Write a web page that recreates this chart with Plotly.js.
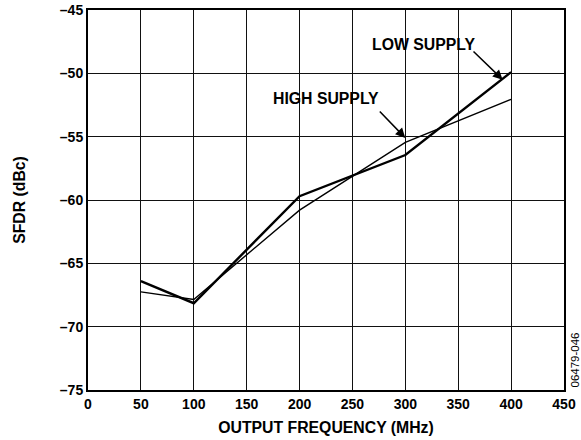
<!DOCTYPE html>
<html><head><meta charset="utf-8">
<script src="https://cdn.plot.ly/plotly-3.0.1.min.js"></script>
<style>body{margin:0;background:#fff}#c{width:581px;height:440px}</style>
</head><body><div id="c"></div>
<script>
const freq = [50, 100, 200, 300, 400];
const lowSupply = [-66.4, -68.15, -59.7, -56.45, -49.9];
const highSupply = [-67.25, -67.85, -60.8, -55.45, -52.05];
const xTicks = [0, 50, 100, 150, 200, 250, 300, 350, 400, 450];
const yTicks = [-75, -70, -65, -60, -55, -50, -45];
const yTickText = ['–75', '–70', '–65', '–60', '–55', '–50', '–45'];

const font = {family: 'Liberation Sans, Arial, sans-serif', color: '#000'};
const data = [
  {x: freq, y: highSupply, mode: 'lines', line: {color: '#000', width: 1.4}, name: 'HIGH SUPPLY'},
  {x: freq, y: lowSupply, mode: 'lines', line: {color: '#000', width: 2.4}, name: 'LOW SUPPLY'}
];
const layout = {
  width: 581, height: 440,
  margin: {l: 88, r: 17, t: 10, b: 50},
  showlegend: false,
  paper_bgcolor: '#fff', plot_bgcolor: '#fff',
  font: Object.assign({size: 12}, font),
  xaxis: {
    range: [0, 450], tickvals: xTicks, ticks: '', showgrid: true, gridcolor: '#111', gridwidth: 1,
    showline: true, linecolor: '#000', linewidth: 2, mirror: true, zeroline: false,
    tickfont: Object.assign({size: 14, weight: 'bold'}, font),
    title: {text: '<b>OUTPUT FREQUENCY (MHz)</b>', font: Object.assign({size: 15.8}, font), standoff: 11}
  },
  yaxis: {
    range: [-75, -45], tickvals: yTicks, ticktext: yTickText, ticks: '', showgrid: true, gridcolor: '#111', gridwidth: 1,
    showline: true, linecolor: '#000', linewidth: 2, mirror: true, zeroline: false,
    tickfont: Object.assign({size: 14, weight: 'bold'}, font),
    title: {text: '<b>SFDR (dBc)</b>', font: Object.assign({size: 15.8}, font), standoff: 30}
  },
  annotations: [
    {x: 392, y: -50.5, xref: 'x', yref: 'y', ax: 472, ay: 50,
     text: '', showarrow: true, arrowhead: 2, arrowsize: 1.3, arrowwidth: 1.5, arrowcolor: '#000'},
    {x: 423, y: 44, text: '<b>LOW SUPPLY</b>', showarrow: false, font: Object.assign({size: 15.8}, font)},
    {x: 300, y: -55.1, xref: 'x', yref: 'y', text: '', showarrow: true, arrowhead: 2, arrowsize: 1.3,
     arrowwidth: 1.5, arrowcolor: '#000', ax: -27, ay: -28},
    {x: 326, y: 98, text: '<b>HIGH SUPPLY</b>', showarrow: false, font: Object.assign({size: 15.8}, font)},
    {x: 574.5, y: 360, text: '06479-046', showarrow: false, textangle: -90, font: Object.assign({size: 11.5}, font)}
  ]
};
const pw = 581 - 88 - 17, ph = 440 - 10 - 50;
function px2paper(a) {
  return {x: (a.x - 88) / pw, y: 1 - (a.y - 10) / ph};
}
const la = layout.annotations;
(function(){
  const headPx = {x: 88 + la[0].x / 450 * pw, y: 10 + (-45 - la[0].y) / 30 * ph};
  la[0].ax = 472 - headPx.x; la[0].ay = 50 - headPx.y;
})();
[1, 3, 4].forEach(i => {
  const p = px2paper(la[i]);
  la[i].x = p.x; la[i].y = p.y; la[i].xref = 'paper'; la[i].yref = 'paper';
  la[i].xanchor = 'center'; la[i].yanchor = 'middle';
});
Plotly.newPlot('c', data, layout, {staticPlot: true});
</script></body></html>
